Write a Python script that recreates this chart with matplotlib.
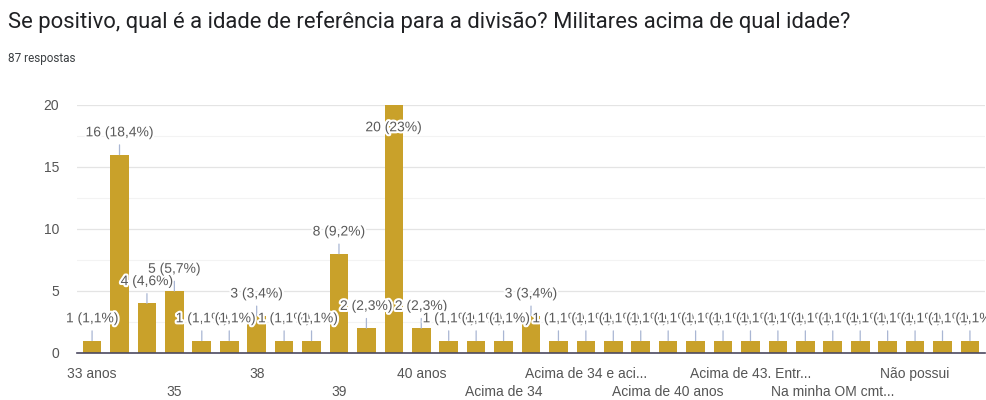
import matplotlib.pyplot as plt
import matplotlib.patheffects as pe
import numpy as np

# Answer counts, one bar per distinct answer (87 answers in total)
counts = [1, 16, 4, 5, 1, 1, 3, 1, 1, 8, 2, 20, 2, 1, 1, 1, 3,
          1, 1, 1, 1, 1, 1, 1, 1, 1, 1, 1, 1, 1, 1, 1, 1]
total = 87

# Only every third category gets an axis label, on two alternating rows
label_positions = [0, 3, 6, 9, 12, 15, 18, 21, 24, 27, 30]
tick_labels = ['33 anos', '35', '38', '39', '40 anos', 'Acima de 34',
               'Acima de 34 e aci...', 'Acima de 40 anos', 'Acima de 43. Entr...',
               'Na minha OM cmt...', 'Não possui']

title = 'Se positivo, qual é a idade de referência para a divisão? Militares acima de qual idade?'
subtitle = '87 respostas'

bar_color = '#c9a12a'

fig = plt.figure(figsize=(9.87, 4.0), dpi=100)
ax = fig.add_axes([0.078, 0.1175, 0.92, 0.62])

x = np.arange(len(counts))
ax.bar(x, counts, width=0.68, color=bar_color, zorder=2)

ax.set_xlim(-0.55, len(counts) - 0.45)
ax.set_ylim(0, 20)

# grid: major every 5, faint minor every 2.5
ax.set_yticks([0, 5, 10, 15, 20])
ax.set_yticks(np.arange(2.5, 20, 5), minor=True)
ax.grid(axis='y', which='major', color='#e4e4e4', linewidth=0.9, zorder=0)
ax.grid(axis='y', which='minor', color='#f3f3f3', linewidth=0.8, zorder=0)
ax.tick_params(axis='y', which='both', length=0, pad=13, labelsize=10,
               labelcolor='#555555')
for lbl in ax.get_yticklabels():
    lbl.set_fontfamily('Liberation Sans')

for side in ['top', 'right', 'left']:
    ax.spines[side].set_visible(False)
ax.spines['bottom'].set_color('#4b4960')
ax.spines['bottom'].set_linewidth(1.2)
ax.spines['bottom'].set_zorder(3)

# category labels, alternating between two rows
labels = [lab if i % 2 == 0 else '\n' + lab for i, lab in enumerate(tick_labels)]
ax.set_xticks(label_positions, labels)
ax.tick_params(axis='x', length=0, pad=10, labelsize=10, labelcolor='#555555')
for lbl in ax.get_xticklabels():
    lbl.set_fontfamily('Liberation Sans')
    lbl.set_linespacing(1.4)

# value annotations with a short stem above each bar
halo = [pe.withStroke(linewidth=3, foreground='white')]
for xi, c in zip(x, counts):
    pct = f'{c / total * 100:.1f}'.rstrip('0').rstrip('.').replace('.', ',')
    txt = f'{c} ({pct}%)'
    if c >= 20:
        # no room above the tallest bar: label goes just inside it
        ax.annotate(txt, (xi, c), xytext=(0, -11), textcoords='offset points',
                    ha='center', va='top', fontsize=10, color='#5a5a5a',
                    family='Liberation Sans', path_effects=halo, zorder=5)
    else:
        ax.annotate(txt, (xi, c), xytext=(0, 11), textcoords='offset points',
                    ha='center', va='bottom', fontsize=10, color='#5a5a5a',
                    family='Liberation Sans', path_effects=halo, zorder=5,
                    annotation_clip=False,
                    arrowprops=dict(arrowstyle='-', color='#a9b6d3', lw=0.9,
                                    shrinkA=2, shrinkB=0))

fig.text(0.008, 0.93, title, fontsize=15.8, family='Roboto', color='#202124',
         va='baseline')
fig.text(0.008, 0.845, subtitle, fontsize=8.5, family='Roboto', color='#3c4043',
         va='baseline')

fig.savefig('out.png', dpi=100, facecolor='white')
